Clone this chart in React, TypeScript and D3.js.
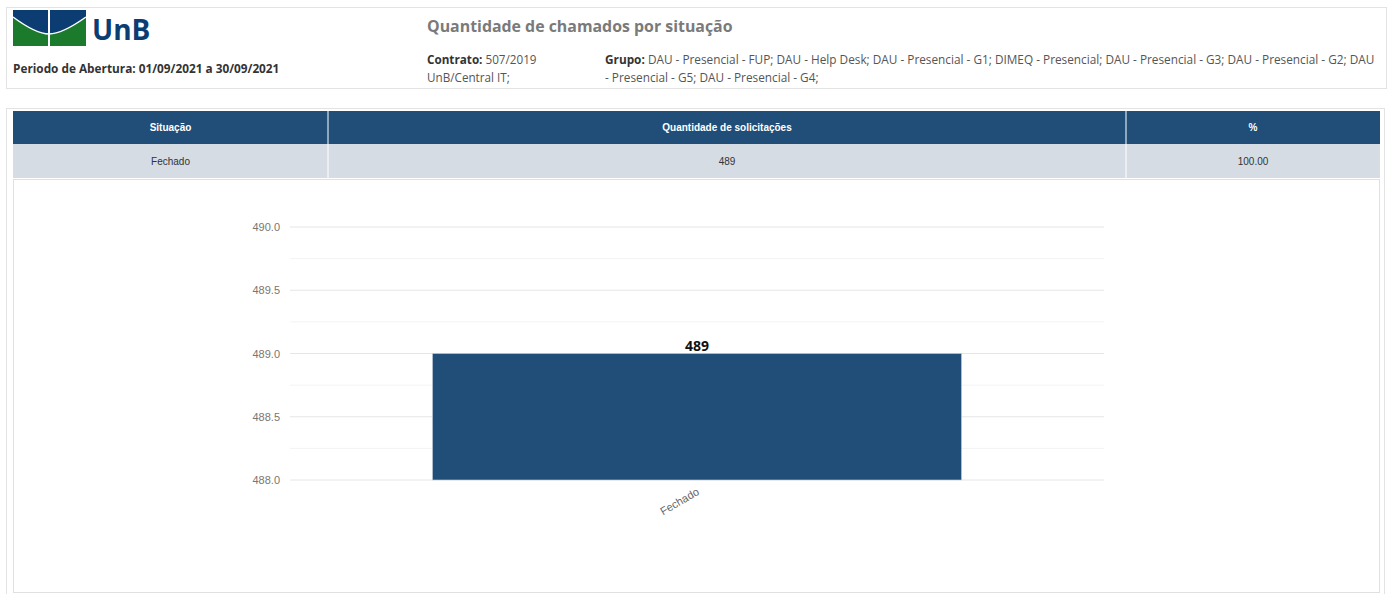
import * as d3 from "d3";

// ---- data ----
const categories = ["Fechado"];
const values = [489];
const percents = ["100.00"];
const yTicks = [488, 488.5, 489, 489.5, 490];
const yMinorTicks = [488.25, 488.75, 489.25, 489.75];

const title = "Quantidade de chamados por situação";
const periodo = "Periodo de Abertura: 01/09/2021 a 30/09/2021";
const grupoLines = [
  "DAU - Presencial - FUP; DAU - Help Desk; DAU - Presencial - G1; DIMEQ - Presencial; DAU - Presencial - G3; DAU - Presencial - G2; DAU",
  "- Presencial - G5; DAU - Presencial - G4;",
];
const tableHeaders = ["Situação", "Quantidade de solicitações", "%"];

const W = 1392;
const H = 594;
const BLUE = "#204e78";
const SANS = "'Open Sans', 'Noto Sans', sans-serif";
const ARIAL = "'Liberation Sans', Arial, sans-serif";

// chart area
const plot = { left: 290, right: 1104, top: 227, bottom: 480 };

function Logo() {
  // UnB flag + wordmark
  return (
    <g>
      <rect x={13} y={10} width={73} height={36} fill="#0b3d72" />
      <path d="M13,17 Q36,34 49,34 Q62,34 86,17 L86,46 L13,46 Z" fill="#1b7a2c" />
      <path d="M13,17 Q36,34 49,34 Q62,34 86,17" fill="none" stroke="#fff" strokeWidth={1.5} />
      <line x1={49} x2={49} y1={10} y2={46} stroke="#fff" strokeWidth={2} />
      <text x={92} y={40} fontFamily={SANS} fontWeight={700} fontSize={28} fill="#0b3d72">UnB</text>
    </g>
  );
}

export default function App() {
  const x = d3.scaleBand<string>().domain(categories).range([plot.left, plot.right])
    .paddingInner(0.35).paddingOuter(0.175);
  const y = d3.scaleLinear().domain([488, 490]).range([plot.bottom, plot.top]);
  const fmt = d3.format(".1f");

  // table columns
  const colEdges = [13, 328, 1126, 1380];
  const rowVals = [categories[0], String(values[0]), percents[0]];

  return (
    <svg width={W} height={H} style={{ position: "absolute", left: 0, top: 0, background: "#fff" }}>
      {/* header panel */}
      <rect x={6.5} y={7.5} width={1380} height={81} fill="#fff" stroke="#e3e3e3" />
      <Logo />
      <text x={13} y={73} fontFamily={SANS} fontWeight={700} fontSize={11.8} fill="#333">{periodo}</text>
      <text x={427} y={32} fontFamily={SANS} fontWeight={700} fontSize={15.9} fill="#7a7a7a">{title}</text>
      <text x={427} y={64} fontFamily={SANS} fontSize={11.7} fill="#555">
        <tspan fontWeight={700} fill="#333">Contrato:</tspan> 507/2019
      </text>
      <text x={427} y={82} fontFamily={SANS} fontSize={11.7} fill="#555">UnB/Central IT;</text>
      <text x={605} y={64} fontFamily={SANS} fontSize={11.8} fill="#555">
        <tspan fontWeight={700} fill="#333">Grupo:</tspan> {grupoLines[0]}
      </text>
      <text x={605} y={82} fontFamily={SANS} fontSize={11.8} fill="#555">{grupoLines[1]}</text>

      {/* content panel */}
      <rect x={6.5} y={108.5} width={1378} height={500} fill="#fff" stroke="#e3e3e3" />

      {/* table */}
      <rect x={13} y={111} width={1367} height={33} fill={BLUE} />
      <rect x={13} y={144} width={1367} height={34} fill="#d6dce4" />
      {colEdges.slice(1, -1).map((cx) => (
        <line key={cx} x1={cx} x2={cx} y1={111} y2={178} stroke="#fff" strokeWidth={1} />
      ))}
      {tableHeaders.map((h, i) => (
        <text key={h} x={(colEdges[i] + colEdges[i + 1]) / 2} y={131} textAnchor="middle"
          fontFamily={ARIAL} fontWeight={700} fontSize={10} fill="#fff">{h}</text>
      ))}
      {rowVals.map((v, i) => (
        <text key={i} x={(colEdges[i] + colEdges[i + 1]) / 2} y={165} textAnchor="middle"
          fontFamily={ARIAL} fontSize={10} fill="#333">{v}</text>
      ))}

      {/* chart panel */}
      <rect x={13.5} y={179.5} width={1366} height={413} fill="#fff" stroke="#e0e0e0" />

      {/* grid */}
      {yMinorTicks.map((t) => (
        <line key={"m" + t} x1={plot.left} x2={plot.right} y1={y(t)} y2={y(t)} stroke="#f3f3f3" />
      ))}
      {yTicks.map((t) => (
        <g key={t}>
          <line x1={plot.left} x2={plot.right} y1={y(t)} y2={y(t)} stroke="#e6e6e6" />
          <text x={280} y={y(t) + 4} textAnchor="end" fontFamily={ARIAL} fontSize={11} fill="#7d756f">{fmt(t)}</text>
        </g>
      ))}

      {/* bars */}
      {categories.map((c, i) => {
        const bx = x(c) ?? 0;
        const cx = bx + x.bandwidth() / 2;
        return (
          <g key={c}>
            <rect x={bx} y={y(values[i])} width={x.bandwidth()} height={y(488) - y(values[i])}
              fill={BLUE} stroke="#c8d3df" strokeWidth={0.6} />
            <text x={cx} y={y(values[i]) - 3} textAnchor="middle" fontFamily={SANS}
              fontWeight={700} fontSize={14} fill="#111">{values[i]}</text>
            <text transform={`translate(${cx + 3},${plot.bottom + 14}) rotate(-30)`} textAnchor="end"
              fontFamily={ARIAL} fontSize={11} fill="#666">{c}</text>
          </g>
        );
      })}
    </svg>
  );
}
